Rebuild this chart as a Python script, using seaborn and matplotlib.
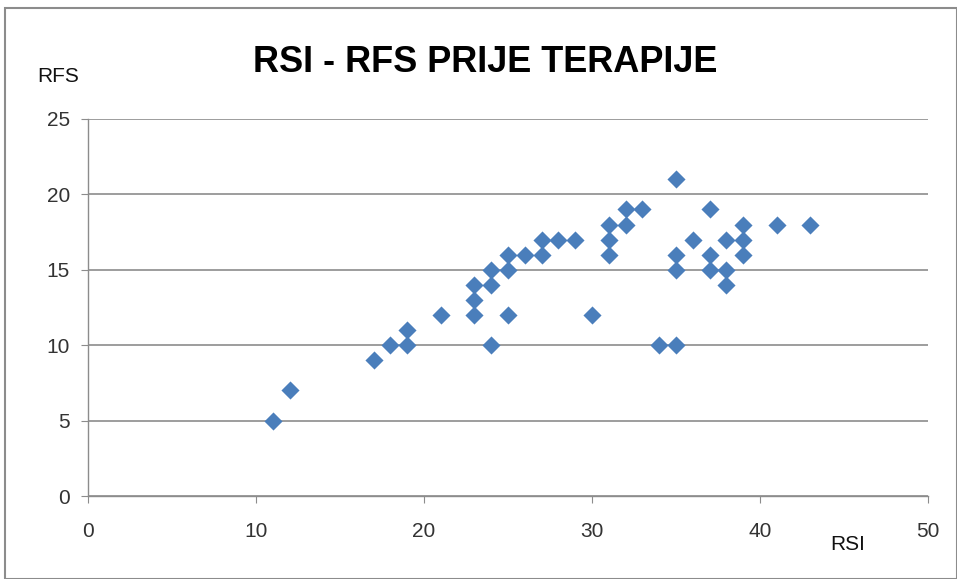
import matplotlib
matplotlib.use("Agg")
import matplotlib.pyplot as plt
import seaborn as sns
import pandas as pd
from matplotlib.patches import Rectangle

rsi = [11, 12, 17, 18, 19, 19, 21, 23, 23, 23, 24, 24, 24, 25, 25, 25, 26, 27, 27, 28,
       29, 30, 31, 31, 31, 32, 32, 33, 34, 35, 35, 35, 35, 36, 37, 37, 37, 38, 38, 38,
       39, 39, 39, 41, 43]
rfs = [5, 7, 9, 10, 10, 11, 12, 12, 13, 14, 14, 15, 10, 12, 15, 16, 16, 16, 17, 17,
       17, 12, 16, 17, 18, 18, 19, 19, 10, 10, 15, 16, 21, 17, 15, 16, 19, 14, 15, 17,
       16, 17, 18, 18, 18]
x_ticks = [0, 10, 20, 30, 40, 50]
y_ticks = [0, 5, 10, 15, 20, 25]
title = "RSI - RFS PRIJE TERAPIJE"

df = pd.DataFrame({"RSI": rsi, "RFS": rfs})

sns.set_style("white")
plt.rcParams['font.family'] = ['Liberation Sans Narrow', 'Liberation Sans', 'DejaVu Sans']

fig = plt.figure(figsize=(9.57, 5.79), dpi=100)
ax = fig.add_axes([88/957, 1 - 496/579, (928-88)/957, (496-119)/579])

sns.scatterplot(data=df, x="RSI", y="RFS", marker="D", s=85, color="#4a7ebb",
                edgecolor="#4a7ebb", linewidth=0, ax=ax, zorder=3)

ax.set_xlim(0, 50)
ax.set_ylim(0, 25)
ax.set_xticks(x_ticks)
ax.set_yticks(y_ticks)
ax.yaxis.grid(True, color="#8c8c8c", linewidth=1.2)
ax.xaxis.grid(False)
for s in ["top", "right"]:
    ax.spines[s].set_visible(False)
ax.spines["left"].set_color("#8c8c8c")
ax.spines["bottom"].set_color("#8c8c8c")
ax.spines["left"].set_linewidth(1.0)
ax.spines["bottom"].set_linewidth(1.0)
ax.tick_params(axis="both", direction="out", length=5, color="#8c8c8c",
               labelsize=15, labelcolor="#333333", left=True, bottom=True)
ax.tick_params(axis="x", pad=14)
ax.tick_params(axis="y", pad=8)
ax.set_xlabel("")
ax.set_ylabel("")

fig.text(485/957, 1 - 62/579, title, ha="center", va="center", fontsize=26,
         fontweight="bold", color="#000000")
fig.text(58/957, 1 - 76/579, "RFS", ha="center", va="center", fontsize=15, color="#111111")
fig.text(848/957, 1 - 544/579, "RSI", ha="center", va="center", fontsize=15, color="#111111")

border = Rectangle((5/957, 0), 1 - 5/957, 1 - 8/579, transform=fig.transFigure,
                   fill=False, edgecolor="#8c8c8c", linewidth=1.5)
fig.patches.append(border)

fig.savefig("out.png", dpi=100)
